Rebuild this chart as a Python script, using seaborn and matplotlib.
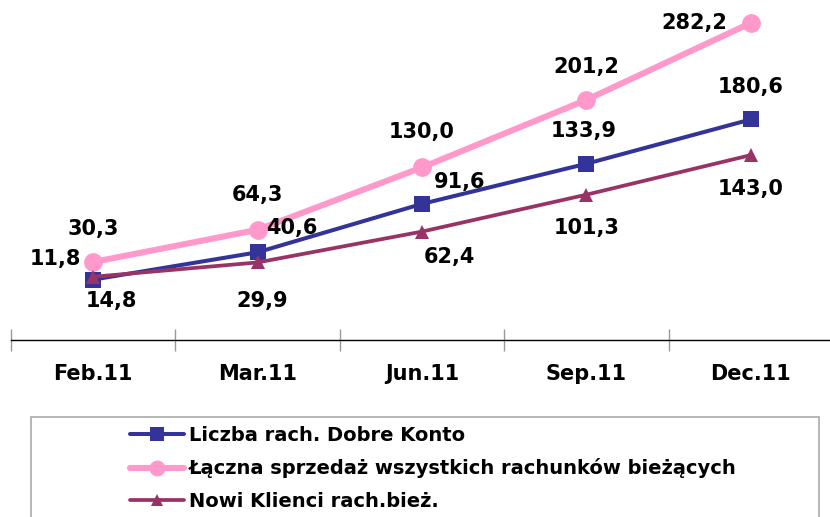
import matplotlib
matplotlib.use("Agg")
import matplotlib.pyplot as plt
import seaborn as sns
import numpy as np
from matplotlib.patches import Rectangle

categories = ["Feb.11", "Mar.11", "Jun.11", "Sep.11", "Dec.11"]
dobre_konto = [11.8, 40.6, 91.6, 133.9, 180.6]
laczna_sprzedaz = [30.3, 64.3, 130.0, 201.2, 282.2]
nowi_klienci = [14.8, 29.9, 62.4, 101.3, 143.0]

series_names = [
    "Liczba rach. Dobre Konto",
    "Łączna sprzedaż wszystkich rachunków bieżących",
    "Nowi Klienci rach.bież.",
]

sns.set_style("white")
plt.rcParams["font.family"] = ["DejaVu Sans"]
plt.rcParams["text.color"] = "black"

fig = plt.figure(figsize=(8.30, 5.17), dpi=100)
ax = fig.add_axes([11 / 830, 1 - 340 / 517, 822 / 830, 340 / 517])

x = np.arange(len(categories))

styles = [
    dict(color="#333399", marker="s", linewidth=2.9, markersize=11.3),
    dict(color="#FF99CC", marker="o", linewidth=4.4, markersize=13.5),
    dict(color="#993366", marker="^", linewidth=2.7, markersize=10),
]
data = [dobre_konto, laczna_sprzedaz, nowi_klienci]
order = [1, 0, 2]
for i in order:
    st = styles[i]
    sns.lineplot(x=x, y=data[i], ax=ax, color=st["color"], marker=st["marker"],
                 linewidth=st["linewidth"], markersize=st["markersize"],
                 markeredgewidth=0, label=series_names[i], legend=False,
                 zorder=3 if i == 1 else 4)

# label offsets in pixels
offsets = [
    [(-38, 21), (34, 24), (38, 22), (-3, 33), (0, 32)],
    [(0, 33), (0, 35), (0, 35), (0, 33), (-56, 0)],
    [(18, -24), (5, -39), (27, -25), (0, -33), (0, -34)],
]
for i in range(3):
    for j, v in enumerate(data[i]):
        ax.annotate(f"{v:.1f}".replace(".", ","), (x[j], v), xytext=offsets[i][j],
                    textcoords="offset pixels", ha="center", va="center",
                    fontsize=15, fontweight="bold", color="black", zorder=6)

ax.set_xlim(-0.5, 4.5)
ax.set_ylim(282.2 - 317 / 0.949, 282.2 + 23 / 0.949)
for s in ["top", "right", "left"]:
    ax.spines[s].set_visible(False)
ax.spines["bottom"].set_color("black")
ax.spines["bottom"].set_linewidth(1.0)
ax.set_yticks([])
ax.set_xticks(x)
ax.set_xticklabels(categories, fontsize=15, fontweight="bold", color="black")
ax.tick_params(axis="x", which="major", length=0, pad=17, bottom=True)
ax.set_xticks(np.arange(-0.5, 5.0, 1.0), minor=True)
ax.tick_params(axis="x", which="minor", length=16, direction="inout", color="#999999",
               width=1, bottom=True)
ax.set_xlabel("")
ax.set_ylabel("")
ax.patch.set_alpha(0)

# legend frame
fig.patches.append(Rectangle((31 / 830, -0.05), (819 - 31) / 830, (517 - 417) / 517 + 0.05,
                             transform=fig.transFigure, fill=False, edgecolor="#AAAAAA",
                             linewidth=1.2))
handles, labels = ax.get_legend_handles_labels()
hmap = dict(zip(labels, handles))
leg = fig.legend([hmap[n] for n in series_names], series_names, loc="upper left",
                 bbox_to_anchor=(126 / 830, 1 - 422 / 517), frameon=False,
                 prop=dict(size=14, weight="bold"), handlelength=2.8, handletextpad=0.25,
                 labelspacing=0.7, borderaxespad=0, borderpad=0.2, markerscale=0.85)
for t in leg.get_texts():
    t.set_color("black")

fig.savefig("out.png", dpi=100)
